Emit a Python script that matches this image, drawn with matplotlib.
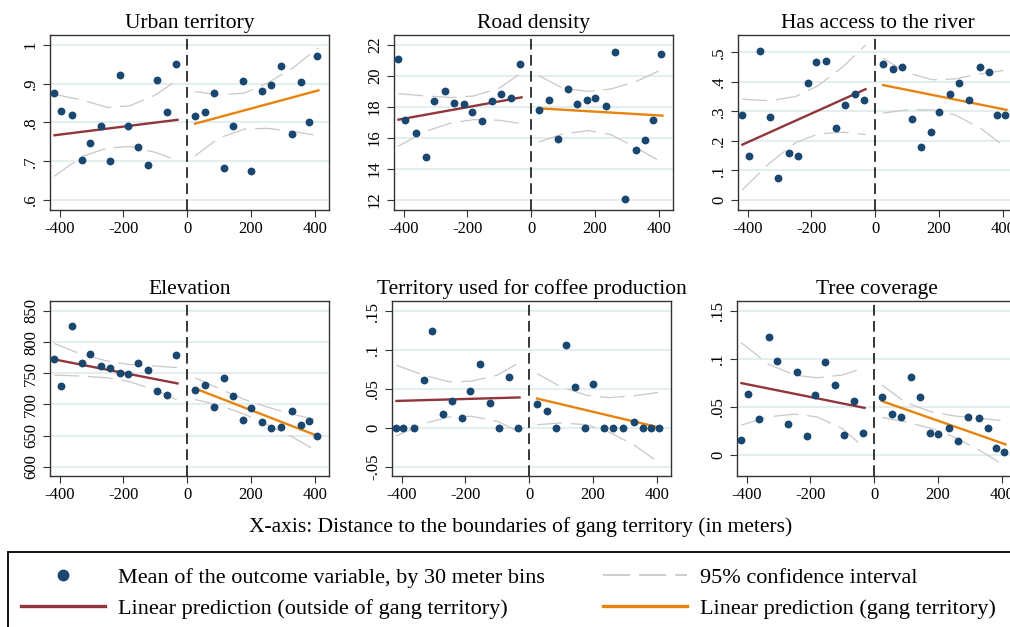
import numpy as np
import matplotlib
matplotlib.use("Agg")
import matplotlib.pyplot as plt
from matplotlib.lines import Line2D
from matplotlib.patches import Rectangle

plt.rcParams['font.family'] = ['Liberation Serif', 'DejaVu Serif']
plt.rcParams['axes.unicode_minus'] = False

#=========================================
# values
#=========================================

titles = ['Urban territory', 'Road density', 'Has access to the river',
          'Elevation', 'Territory used for coffee production', 'Tree coverage']

# mean distance of each 30 m bin (same bins in every panel)
bins_left = [-416, -394, -361, -331, -305, -269, -242, -211, -185, -155, -122, -93, -64, -34]
bins_right = [24, 57, 83, 115, 145, 175, 201, 234, 262, 296, 329, 356, 381, 406]

fit_x_left = [-416, -30]
fit_x_right = [25, 412]
ci_x_left = [-417, -330, -250, -180, -100, -30]
ci_x_right = [25, 100, 180, 250, 330, 412]

# Urban territory
urban_left = [.877, .829, .820, .703, .748, .791, .700, .922, .791, .736, .689, .910, .826, .952]
urban_right = [.817, .827, .877, .683, .791, .906, .674, .882, .898, .946, .770, .904, .800, .973]
urban_fit_left = [.767, .807]
urban_fit_right = [.797, .883]
urban_ci_left = ([.873, .858, .839, .843, .871, .910], [.661, .712, .734, .738, .723, .702])
urban_ci_right = ([.880, .871, .876, .901, .940, .993], [.714, .760, .783, .785, .777, .766])

# Road density
road_left = [21.08, 17.13, 16.31, 14.75, 18.39, 19.0, 18.24, 18.18, 17.67, 17.06, 18.35, 18.85, 18.57, 20.78]
road_right = [17.82, 18.42, 15.95, 19.15, 18.18, 18.46, 18.55, 18.07, 21.53, 12.06, 15.2, 15.86, 17.13, 21.4]
road_fit_left = [17.17, 18.61]
road_fit_right = [17.9, 17.43]
road_ci_left = ([18.85, 18.7, 18.6, 18.7, 19.2, 20.2], [15.45, 16.42, 16.96, 17.17, 17.13, 16.91])
road_ci_right = ([20.0, 19.2, 19.0, 19.15, 19.64, 20.43], [15.73, 16.25, 16.46, 16.2, 15.35, 14.38])

# Has access to the river
river_left = [.288, .148, .505, .280, .073, .160, .148, .395, .468, .472, .242, .321, .360, .338]
river_right = [.461, .443, .450, .274, .180, .231, .297, .360, .396, .337, .450, .434, .289, .289]
river_fit_left = [.187, .375]
river_fit_right = [.389, .305]
river_ci_left = ([.341, .336, .350, .386, .452, .525], [.033, .125, .193, .223, .229, .221])
river_ci_right = ([.480, .431, .407, .410, .427, .440], [.294, .305, .305, .288, .243, .176])

# Elevation
elev_left = [772.2, 729.8, 826.4, 766.8, 781.3, 761.5, 757.7, 749.7, 748.1, 766.8, 755.0, 721.8, 714.8, 779.7]
elev_right = [723.4, 730.9, 695.5, 742.2, 712.7, 675.1, 693.9, 671.9, 662.2, 663.8, 690.1, 667.6, 673.5, 648.8]
elev_fit_left = [772.2, 733.6]
elev_fit_right = [725.5, 648.8]
elev_ci_left = ([798, 780, 769.5, 764, 761.5, 759], [747, 745.4, 742.7, 736.3, 723, 706.8])
elev_ci_right = ([742.7, 725.5, 707.8, 696, 684.2, 674.6], [707.8, 698.7, 684.2, 667.6, 647.7, 623.6])

# Territory used for coffee production
coffee_left = [0, 0, 0, .062, .124, .018, .034, .012, .047, .082, .032, 0, .065, 0]
coffee_right = [.030, .021, 0, .107, .052, 0, .056, 0, 0, 0, .008, 0, 0, 0]
coffee_fit_left = [.0345, .039]
coffee_fit_right = [.0376, 0.0]
coffee_ci_left = ([.0805, .0676, .059, .060, .0676, .084], [-.0105, .0054, .014, .0148, .0084, -.0054])
coffee_ci_right = ([.0697, .0526, .0418, .0388, .041, .046], [.004, .0062, .004, -.0054, -.0225, -.046])

# Tree coverage
tree_left = [.016, .063, .037, .1225, .098, .032, .086, .020, .062, .097, .073, .021, .056, .023]
tree_right = [.0605, .043, .040, .081, .060, .023, .022, .028, .0146, .040, .038, .028, .0077, .0028]
tree_fit_left = [.0748, .049]
tree_fit_right = [.056, .011]
tree_ci_left = ([.117, .0943, .0832, .0804, .0832, .0908], [.031, .0397, .0425, .0397, .0275, .0073])
tree_ci_right = ([.0727, .0543, .0449, .0407, .038, .0355], [.039, .0344, .0275, .0188, .0049, -.0118])

x_ticks = [-400, -200, 0, 200, 400]
x_tick_labels = ['-400', '-200', '0', '200', '400']

y_ticks = [[.6, .7, .8, .9, 1], [12, 14, 16, 18, 20, 22], [0, .1, .2, .3, .4, .5],
           [600, 650, 700, 750, 800, 850], [-.05, 0, .05, .1, .15], [0, .05, .1, .15]]
y_tick_labels = [['.6', '.7', '.8', '.9', '1'], ['12', '14', '16', '18', '20', '22'],
                 ['0', '.1', '.2', '.3', '.4', '.5'], ['600', '650', '700', '750', '800', '850'],
                 ['-.05', '0', '.05', '.1', '.15'], ['0', '.05', '.1', '.15']]
y_lims = [(.574, 1.026), (11.33, 22.64), (-.035, .559), (585, 866), (-.062, .163), (-.022, .1604)]

panels = [
    (urban_left, urban_right, urban_fit_left, urban_fit_right, urban_ci_left, urban_ci_right),
    (road_left, road_right, road_fit_left, road_fit_right, road_ci_left, road_ci_right),
    (river_left, river_right, river_fit_left, river_fit_right, river_ci_left, river_ci_right),
    (elev_left, elev_right, elev_fit_left, elev_fit_right, elev_ci_left, elev_ci_right),
    (coffee_left, coffee_right, coffee_fit_left, coffee_fit_right, coffee_ci_left, coffee_ci_right),
    (tree_left, tree_right, tree_fit_left, tree_fit_right, tree_ci_left, tree_ci_right),
]

navy = '#1a476f'
maroon = '#90353b'
orange = '#e8830e'
ci_gray = '#c8c8c8'
grid_col = '#e4edef'

#=========================================
# figure, axes placed in pixels (third column runs past the edge)
#=========================================

W, H = 1010, 627
fig = plt.figure(figsize=(W / 100, H / 100), dpi=100)

lefts = [50, 394, 738, 50, 392, 737]
bottoms = [210, 210, 210, 476, 476, 476]
ax_w, ax_h = 279, 175

for i, (yl, yr, fl, fr, cil, cir) in enumerate(panels):
    ax = fig.add_axes([lefts[i] / W, (H - bottoms[i]) / H, ax_w / W, ax_h / H])
    for yt in y_ticks[i]:
        ax.axhline(yt, color=grid_col, lw=1.4, zorder=0)
    ax.plot(ci_x_left, cil[0], color=ci_gray, lw=0.9, ls=(0, (20, 7)), zorder=1)
    ax.plot(ci_x_left, cil[1], color=ci_gray, lw=0.9, ls=(0, (20, 7)), zorder=1)
    ax.plot(ci_x_right, cir[0], color=ci_gray, lw=0.9, ls=(0, (20, 7)), zorder=1)
    ax.plot(ci_x_right, cir[1], color=ci_gray, lw=0.9, ls=(0, (20, 7)), zorder=1)
    ax.plot(fit_x_left, fl, color=maroon, lw=1.7, zorder=2)
    ax.plot(fit_x_right, fr, color=orange, lw=1.7, zorder=2)
    ax.scatter(bins_left, yl, s=32, color=navy, zorder=3, linewidths=0)
    ax.scatter(bins_right, yr, s=32, color=navy, zorder=3, linewidths=0)
    ax.axvline(0, color='black', lw=1.1, ls=(0, (7, 3.5)), zorder=4)

    ax.set_xlim(-430, 445)
    ax.set_ylim(*y_lims[i])
    ax.set_xticks(x_ticks)
    ax.set_xticklabels(x_tick_labels)
    ax.set_yticks(y_ticks[i])
    ax.set_yticklabels(y_tick_labels[i], rotation=90, va='center')
    ax.tick_params(direction='out', length=5, width=0.8, color='#333333',
                   labelsize=12, pad=3)
    for sp in ax.spines.values():
        sp.set_color('#333333')
        sp.set_linewidth(1.0)
    ax.set_title(titles[i], fontsize=15.5, pad=5)

fig.text(521 / W, (H - 527) / H, 'X-axis: Distance to the boundaries of gang territory (in meters)',
         ha='center', va='center', fontsize=15.5)

#=========================================
# legend box at the bottom (cut by the edge, as in the original)
#=========================================

box = Rectangle((8 / W, -0.2), 1.2, (H - 552) / H + 0.2, transform=fig.transFigure,
                fill=False, ec='black', lw=1.3)
fig.add_artist(box)

h_dot = Line2D([], [], ls='none', marker='o', color=navy, markersize=7.5)
h_ci = Line2D([], [], color=ci_gray, lw=1.3, ls=(0, (15, 5)))
h_out = Line2D([], [], color=maroon, lw=2.4)
h_in = Line2D([], [], color=orange, lw=2.4)

leg_top = (H - 567) / H
fig.legend([h_dot, h_out], ['Mean of the outcome variable, by 30 meter bins',
                            'Linear prediction (outside of gang territory)'],
           loc='upper left', bbox_to_anchor=(21 / W, leg_top), frameon=False,
           fontsize=16, handlelength=3.8, handletextpad=0.55, labelspacing=0.5,
           borderpad=0, borderaxespad=0)
fig.legend([h_ci, h_in], ['95% confidence interval', 'Linear prediction (gang territory)'],
           loc='upper left', bbox_to_anchor=(603 / W, leg_top), frameon=False,
           fontsize=16, handlelength=3.8, handletextpad=0.55, labelspacing=0.5,
           borderpad=0, borderaxespad=0)

fig.savefig('out.png', dpi=100)
